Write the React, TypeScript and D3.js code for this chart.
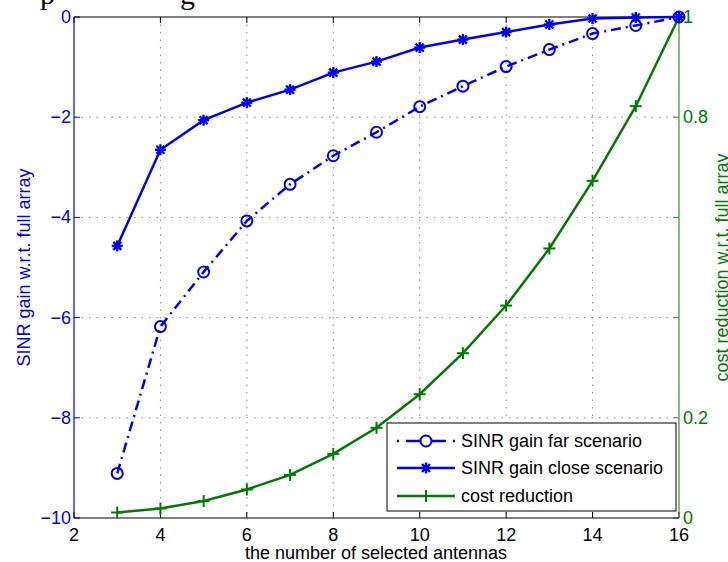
import React, { useEffect } from "react";
import * as d3 from "d3";

const antennas = [3, 4, 5, 6, 7, 8, 9, 10, 11, 12, 13, 14, 15, 16];
const farGain = [-9.11, -6.18, -5.09, -4.07, -3.34, -2.77, -2.3, -1.79, -1.38, -0.99, -0.65, -0.33, -0.17, 0];
const closeGain = [-4.57, -2.65, -2.06, -1.71, -1.45, -1.11, -0.89, -0.61, -0.45, -0.3, -0.15, -0.03, -0.01, 0];
const costReduction = [0.011, 0.019, 0.034, 0.057, 0.086, 0.128, 0.18, 0.247, 0.329, 0.424, 0.538, 0.673, 0.822, 1.0];

const xTicks = [2, 4, 6, 8, 10, 12, 14, 16];
const leftTicks = [0, -2, -4, -6, -8, -10];
const rightTicks = [0, 0.2, 0.4, 0.6, 0.8, 1];
const rightTickLabels = ["0", "0.2", "", "", "0.8", "1"];
const legendLabels = ["SINR gain far scenario", "SINR gain close scenario", "cost reduction"];

const W = 728;
const H = 562;
const L = 74, R = 679, T = 17, B = 518;
const BLUE = "#0000f0";
const GREEN = "#007a00";
const AXGREEN = "#3c8c3c";
const FONT = "'Liberation Sans', Arial, sans-serif";

export default function App() {
  useEffect(() => {
    document.body.style.margin = "0";
  }, []);
  const x = d3.scaleLinear().domain([2, 16]).range([L, R]);
  const yL = d3.scaleLinear().domain([-10, 0]).range([B, T]);
  const yR = d3.scaleLinear().domain([0, 1]).range([B, T]);

  const farPts = antennas.map((a, i) => [x(a), yL(farGain[i])] as [number, number]);
  const closePts = antennas.map((a, i) => [x(a), yL(closeGain[i])] as [number, number]);
  const costPts = antennas.map((a, i) => [x(a), yR(costReduction[i])] as [number, number]);
  const line = d3.line();

  const star = (cx: number, cy: number, k: number, color: string) => {
    const s = 5.5, d = 4;
    return (
      <g key={k} stroke={color} strokeWidth={2.4}>
        <line x1={cx - s} y1={cy} x2={cx + s} y2={cy} />
        <line x1={cx} y1={cy - s} x2={cx} y2={cy + s} />
        <line x1={cx - d} y1={cy - d} x2={cx + d} y2={cy + d} />
        <line x1={cx - d} y1={cy + d} x2={cx + d} y2={cy - d} />
      </g>
    );
  };
  const plus = (cx: number, cy: number, k: number) => (
    <g key={k} stroke={GREEN} strokeWidth={2}>
      <line x1={cx - 6} y1={cy} x2={cx + 6} y2={cy} />
      <line x1={cx} y1={cy - 6} x2={cx} y2={cy + 6} />
    </g>
  );

  const lx0 = 397, lx1 = 455, lxm = (lx0 + lx1) / 2;
  const legY = [441, 468, 496];

  return (
    <svg width={W} height={H} style={{ position: "absolute", left: 0, top: 0, background: "#fff" }} fontFamily={FONT}>
      <rect x={0} y={0} width={W} height={H} fill="#fff" />
      {/* cropped caption text above */}
      <text x={40} y={4} fontFamily="'Liberation Serif', 'Times New Roman', serif" fontSize={30} fill="#000">p</text>
      <text x={180} y={4} fontFamily="'Liberation Serif', 'Times New Roman', serif" fontSize={30} fill="#000">g</text>

      {/* grid */}
      <g stroke="#8a8a8a" strokeWidth={1} strokeDasharray="1.5 6">
        {xTicks.filter((t) => t > 2 && t < 16).map((t) => (
          <line key={"gx" + t} x1={x(t)} x2={x(t)} y1={T} y2={B} />
        ))}
        {leftTicks.filter((t) => t < 0 && t > -10).map((t) => (
          <line key={"gy" + t} x1={L} x2={R} y1={yL(t)} y2={yL(t)} />
        ))}
      </g>

      {/* ticks */}
      <g stroke="#000" strokeWidth={1}>
        {xTicks.map((t) => (
          <g key={"xt" + t}>
            <line x1={x(t)} x2={x(t)} y1={B} y2={B - 6} />
            <line x1={x(t)} x2={x(t)} y1={T} y2={T + 6} />
          </g>
        ))}
      </g>
      <g stroke={BLUE} strokeWidth={1}>
        {leftTicks.map((t) => (
          <line key={"lt" + t} x1={L} x2={L + 6} y1={yL(t)} y2={yL(t)} />
        ))}
      </g>
      <g stroke={AXGREEN} strokeWidth={1}>
        {rightTicks.map((t) => (
          <line key={"rt" + t} x1={R} x2={R - 6} y1={yR(t)} y2={yR(t)} />
        ))}
      </g>

      {/* axes lines */}
      <line x1={L} x2={R} y1={T} y2={T} stroke="#000" strokeWidth={1} />
      <line x1={L} x2={R} y1={B} y2={B} stroke="#000" strokeWidth={1} />
      <line x1={L} x2={L} y1={T} y2={B} stroke={BLUE} strokeWidth={1.2} />
      <line x1={R} x2={R} y1={T} y2={B} stroke={AXGREEN} strokeWidth={1.2} />

      {/* data: cost reduction */}
      <path d={line(costPts) || ""} fill="none" stroke={GREEN} strokeWidth={2.5} />
      {costPts.map((p, i) => plus(p[0], p[1], i))}

      {/* data: far */}
      <path d={line(farPts) || ""} fill="none" stroke={BLUE} strokeWidth={2.5} strokeDasharray="10 5 2 5" />
      {farPts.map((p, i) => (
        <circle key={"fc" + i} cx={p[0]} cy={p[1]} r={5.5} fill="none" stroke={BLUE} strokeWidth={2} />
      ))}

      {/* data: close */}
      <path d={line(closePts) || ""} fill="none" stroke={BLUE} strokeWidth={2.5} />
      {closePts.map((p, i) => star(p[0], p[1], i, BLUE))}

      {/* tick labels */}
      <g fontSize={18} fill="#000" textAnchor="middle">
        {xTicks.map((t) => (
          <text key={"xl" + t} x={x(t)} y={541}>{t}</text>
        ))}
      </g>
      <g fontSize={18} fill={BLUE} textAnchor="end">
        {leftTicks.map((t) => (
          <text key={"ll" + t} x={L - 3} y={yL(t) + 6}>{t === 0 ? "0" : "\u2212" + Math.abs(t)}</text>
        ))}
      </g>
      <g fontSize={18} fill={GREEN} textAnchor="start">
        {rightTicks.map((t, i) => (
          <text key={"rl" + t} x={R + 4} y={yR(t) + 6}>{rightTickLabels[i]}</text>
        ))}
      </g>

      {/* axis labels */}
      <text x={376} y={559} fontSize={18} textAnchor="middle" fill="#000">the number of selected antennas</text>
      <text transform={`translate(30,${(T + B) / 2}) rotate(-90)`} fontSize={18} textAnchor="middle" fill={BLUE}>SINR gain w.r.t. full array</text>
      <text transform={`translate(728,${(T + B) / 2}) rotate(-90)`} fontSize={18} textAnchor="middle" fill={GREEN}>cost reduction w.r.t. full array</text>

      {/* legend */}
      <rect x={387} y={423} width={289} height={88} fill="#fff" stroke="#000" strokeWidth={1} />
      <g>
        <line x1={lx0} x2={lx0 + 2} y1={legY[0]} y2={legY[0]} stroke={BLUE} strokeWidth={2.5} />
        <line x1={lx0 + 9} x2={lxm - 5.5} y1={legY[0]} y2={legY[0]} stroke={BLUE} strokeWidth={2.5} />
        <line x1={lxm + 5.5} x2={lx1 - 9} y1={legY[0]} y2={legY[0]} stroke={BLUE} strokeWidth={2.5} />
        <line x1={lx1 - 2} x2={lx1} y1={legY[0]} y2={legY[0]} stroke={BLUE} strokeWidth={2.5} />
        <circle cx={lxm} cy={legY[0]} r={5.5} fill="none" stroke={BLUE} strokeWidth={2} />
        <line x1={lx0} x2={lx1} y1={legY[1]} y2={legY[1]} stroke={BLUE} strokeWidth={2.5} />
        {star(lxm, legY[1], 100, BLUE)}
        <line x1={lx0} x2={lx1} y1={legY[2]} y2={legY[2]} stroke={GREEN} strokeWidth={2.5} />
        {plus(lxm, legY[2], 101)}
      </g>
      <g fontSize={18} fill="#000">
        {legendLabels.map((s, i) => (
          <text key={s} x={461} y={legY[i] + 6}>{s}</text>
        ))}
      </g>
    </svg>
  );
}
